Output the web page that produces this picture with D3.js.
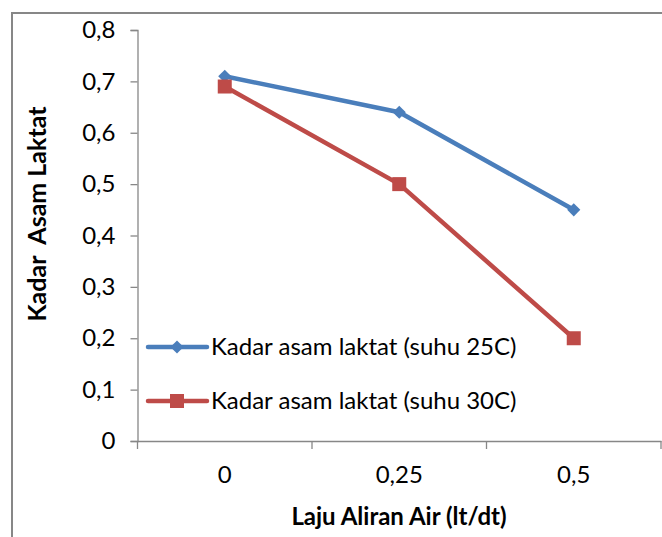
<!DOCTYPE html>
<html><head><meta charset="utf-8">
<script src="https://cdn.jsdelivr.net/npm/d3@7"></script>
<style>body{margin:0;background:#fff;}svg{display:block;}</style>
</head><body>
<script>
const categories = ["0", "0,25", "0,5"];
const series25 = [0.71, 0.64, 0.45];
const series30 = [0.69, 0.50, 0.20];
const seriesNames = ["Kadar asam laktat (suhu 25C)", "Kadar asam laktat (suhu 30C)"];
const yTicks = [0, 0.1, 0.2, 0.3, 0.4, 0.5, 0.6, 0.7, 0.8];
const xTitle = "Laju Aliran Air (lt/dt)";
const yTitle = "Kadar  Asam Laktat";

(function() {
const W = 662, H = 537;
const font = "Lato, 'Open Sans', sans-serif";
const svg = d3.select("body").append("svg").attr("width", W).attr("height", H);

svg.append("path").attr("d", `M12,${H} L12,13 L${W},13`).attr("fill", "none")
  .attr("stroke", "#878787").attr("stroke-width", 2);

const pLeft = 137.5, pRight = 661, pTop = 30, pBottom = 441;
const x = d3.scaleBand().domain(categories).range([pLeft, pRight]).paddingInner(0).paddingOuter(0);
const y = d3.scaleLinear().domain([0, 0.8]).range([pBottom, pTop]);
const fmt = d => d === 0 ? "0" : d3.format(".1f")(d).replace(".", ",");

const yAxis = svg.append("g").attr("transform", `translate(${pLeft},0)`)
  .call(d3.axisLeft(y).tickValues(yTicks).tickSize(7).tickPadding(15).tickFormat(fmt));
yAxis.select(".domain").attr("stroke", "#878787").attr("stroke-width", 1.3);
yAxis.selectAll(".tick line").attr("stroke", "#878787").attr("stroke-width", 1.3);
yAxis.selectAll(".tick text").attr("font-family", font).attr("font-size", 24).attr("fill", "#000");

const xAxis = svg.append("g").attr("transform", `translate(0,${pBottom})`)
  .call(d3.axisBottom(x).tickSize(0).tickPadding(25));
xAxis.select(".domain").attr("stroke", "#878787").attr("stroke-width", 1.3);
xAxis.selectAll(".tick text").attr("font-family", font).attr("font-size", 24).attr("fill", "#000");
const bounds = categories.map(c => x(c)).concat([x(categories[categories.length-1]) + x.bandwidth()]);
xAxis.selectAll(".bnd").data(bounds).enter().append("line")
  .attr("x1", d => d).attr("x2", d => d).attr("y1", 0).attr("y2", 8)
  .attr("stroke", "#878787").attr("stroke-width", 1.3);

const cx = c => x(c) + x.bandwidth() / 2;
const line = d3.line().x((d, i) => cx(categories[i])).y(d => y(d));

const blue = "#4A7EBB", red = "#BE4B48";
svg.append("path").datum(series25).attr("d", line).attr("fill", "none")
  .attr("stroke", blue).attr("stroke-width", 4.5).attr("stroke-linejoin", "round");
svg.append("path").datum(series30).attr("d", line).attr("fill", "none")
  .attr("stroke", red).attr("stroke-width", 4.5).attr("stroke-linejoin", "round");

const diamond = d3.symbol().type(d3.symbolDiamond2).size(110);
svg.selectAll(".m25").data(series25).enter().append("path")
  .attr("d", diamond).attr("fill", blue)
  .attr("transform", (d, i) => `translate(${cx(categories[i])},${y(d)})`);
svg.selectAll(".m30").data(series30).enter().append("rect")
  .attr("x", (d, i) => cx(categories[i]) - 7).attr("y", d => y(d) - 7)
  .attr("width", 14).attr("height", 14).attr("fill", red);

const legend = [{name: seriesNames[0], color: blue, type: "d", ly: 347},
                {name: seriesNames[1], color: red, type: "s", ly: 401}];
legend.forEach(l => {
  svg.append("line").attr("x1", 148).attr("x2", 207).attr("y1", l.ly).attr("y2", l.ly)
    .attr("stroke", l.color).attr("stroke-width", 4.5).attr("stroke-linecap", "round");
  if (l.type === "d") {
    svg.append("path").attr("d", diamond).attr("fill", l.color).attr("transform", `translate(177,${l.ly})`);
  } else {
    svg.append("rect").attr("x", 170).attr("y", l.ly - 7).attr("width", 14).attr("height", 14).attr("fill", l.color);
  }
  svg.append("text").attr("x", 211).attr("y", l.ly).attr("dy", "0.35em")
    .attr("font-family", font).attr("font-size", 24).attr("fill", "#000").text(l.name);
});

svg.append("text").attr("x", 399).attr("y", 517).attr("dy", "0.35em").attr("text-anchor", "middle")
  .attr("font-family", font).attr("font-weight", "bold").attr("font-size", 24).attr("fill", "#000").text(xTitle);
svg.append("text").attr("transform", "translate(37,214) rotate(-90)").attr("dy", "0.35em")
  .attr("text-anchor", "middle").attr("font-family", font).attr("font-weight", "bold")
  .attr("font-size", 25).attr("fill", "#000").style("white-space", "pre").text(yTitle);
})();
</script>
</body></html>
